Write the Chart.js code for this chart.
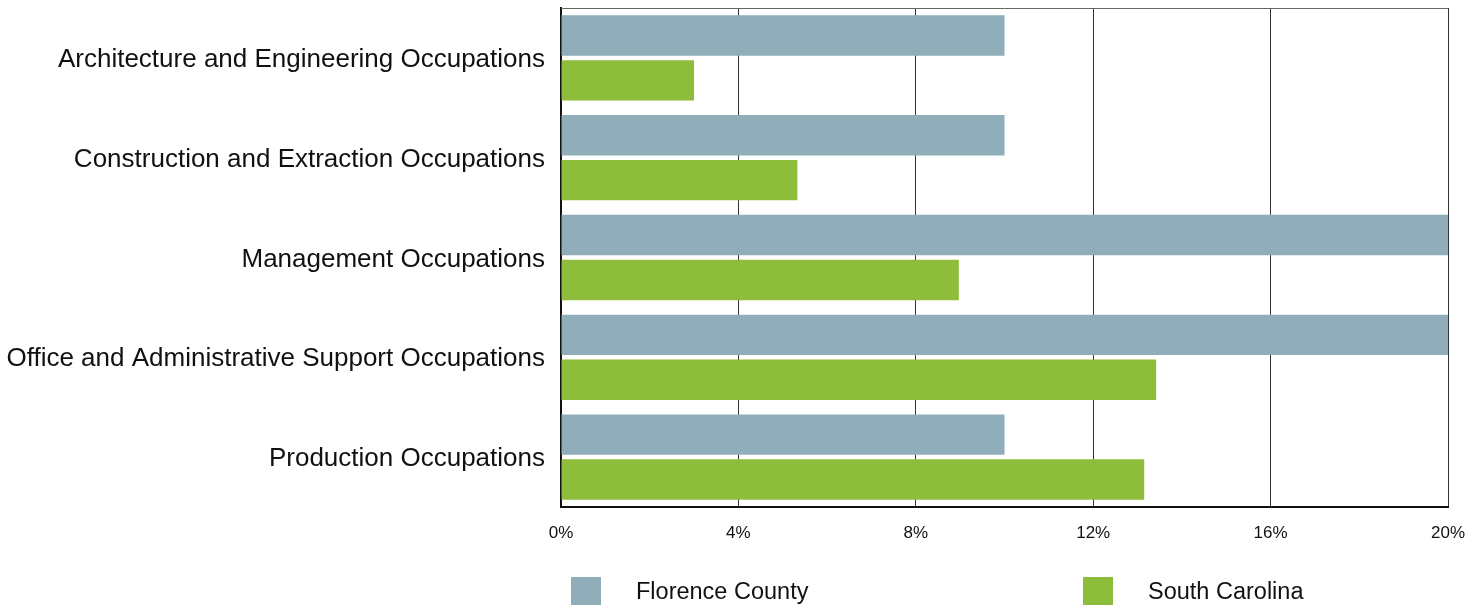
<!DOCTYPE html>
<html>
<head>
<meta charset="utf-8">
<script src="https://cdn.jsdelivr.net/npm/chart.js@4"></script>
<style>
html,body{margin:0;padding:0;background:#fff;}
#wrap{width:1483px;height:608px;position:relative;}
</style>
</head>
<body>
<div id="wrap"><canvas id="c" width="1483" height="608"></canvas></div>
<script>
const categories = [
  "Architecture and Engineering Occupations",
  "Construction and Extraction Occupations",
  "Management Occupations",
  "Office and Administrative Support Occupations",
  "Production Occupations"
];
const florenceCounty = [10, 10, 20, 20, 10];
const southCarolina = [3.0, 5.33, 8.97, 13.42, 13.15];
const xTicks = [0, 4, 8, 12, 16, 20];
const seriesNames = ["Florence County", "South Carolina"];
const seriesColors = ["#8FAEBA", "#8EBD3B"];

const FONT = "'Liberation Sans', Arial, Helvetica, sans-serif";

const frameAndLegend = {
  id: 'frameAndLegend',
  afterDraw(chart) {
    const ctx = chart.ctx;
    const a = chart.chartArea;
    ctx.save();
    ctx.strokeStyle = '#666';
    ctx.lineWidth = 1;
    ctx.beginPath();
    ctx.moveTo(a.left, Math.round(a.top) + 0.5);
    ctx.lineTo(a.right, Math.round(a.top) + 0.5);
    ctx.stroke();
    const xs = [a.left + 10, a.left + 522];
    const boxW = 30, boxH = 28, boxY = 577;
    ctx.font = "23.5px " + FONT;
    ctx.textBaseline = 'middle';
    ctx.textAlign = 'left';
    chart.data.datasets.forEach((ds, i) => {
      ctx.fillStyle = ds.backgroundColor;
      ctx.fillRect(xs[i], boxY, boxW, boxH);
      ctx.fillStyle = '#111';
      ctx.fillText(ds.label, xs[i] + boxW + 35, boxY + boxH / 2 + 2);
    });
    ctx.restore();
  }
};

new Chart(document.getElementById('c'), {
  type: 'bar',
  data: {
    labels: categories,
    datasets: [
      { label: seriesNames[0], data: florenceCounty, backgroundColor: seriesColors[0] },
      { label: seriesNames[1], data: southCarolina, backgroundColor: seriesColors[1] }
    ]
  },
  options: {
    indexAxis: 'y',
    responsive: false,
    animation: false,
    layout: { padding: { top: 8, right: 35, left: 0, bottom: 0 } },
    datasets: { bar: { categoryPercentage: 0.9, barPercentage: 0.9 } },
    plugins: { legend: { display: false }, tooltip: { enabled: false } },
    scales: {
      x: {
        min: 0, max: 20,
        afterBuildTicks(scale) { scale.ticks = xTicks.map(v => ({ value: v })); },
        afterFit(scale) { scale.height = 101; scale.paddingRight = 0; scale.paddingLeft = 0; },
        grid: { color: '#333', lineWidth: 1, drawTicks: false },
        border: { display: true, color: '#111', width: 2 },
        ticks: {
          padding: 16,
          color: '#111',
          font: { family: FONT, size: 17 },
          callback: v => v + '%'
        }
      },
      y: {
        afterFit(scale) { scale.width = 561; scale.paddingTop = 0; scale.paddingBottom = 0; },
        grid: { display: false, drawTicks: false },
        border: { display: true, color: '#111', width: 2 },
        ticks: {
          padding: 16,
          labelOffset: 2,
          color: '#111',
          font: { family: FONT, size: 26 }
        }
      }
    }
  },
  plugins: [frameAndLegend]
});
</script>
</body>
</html>
